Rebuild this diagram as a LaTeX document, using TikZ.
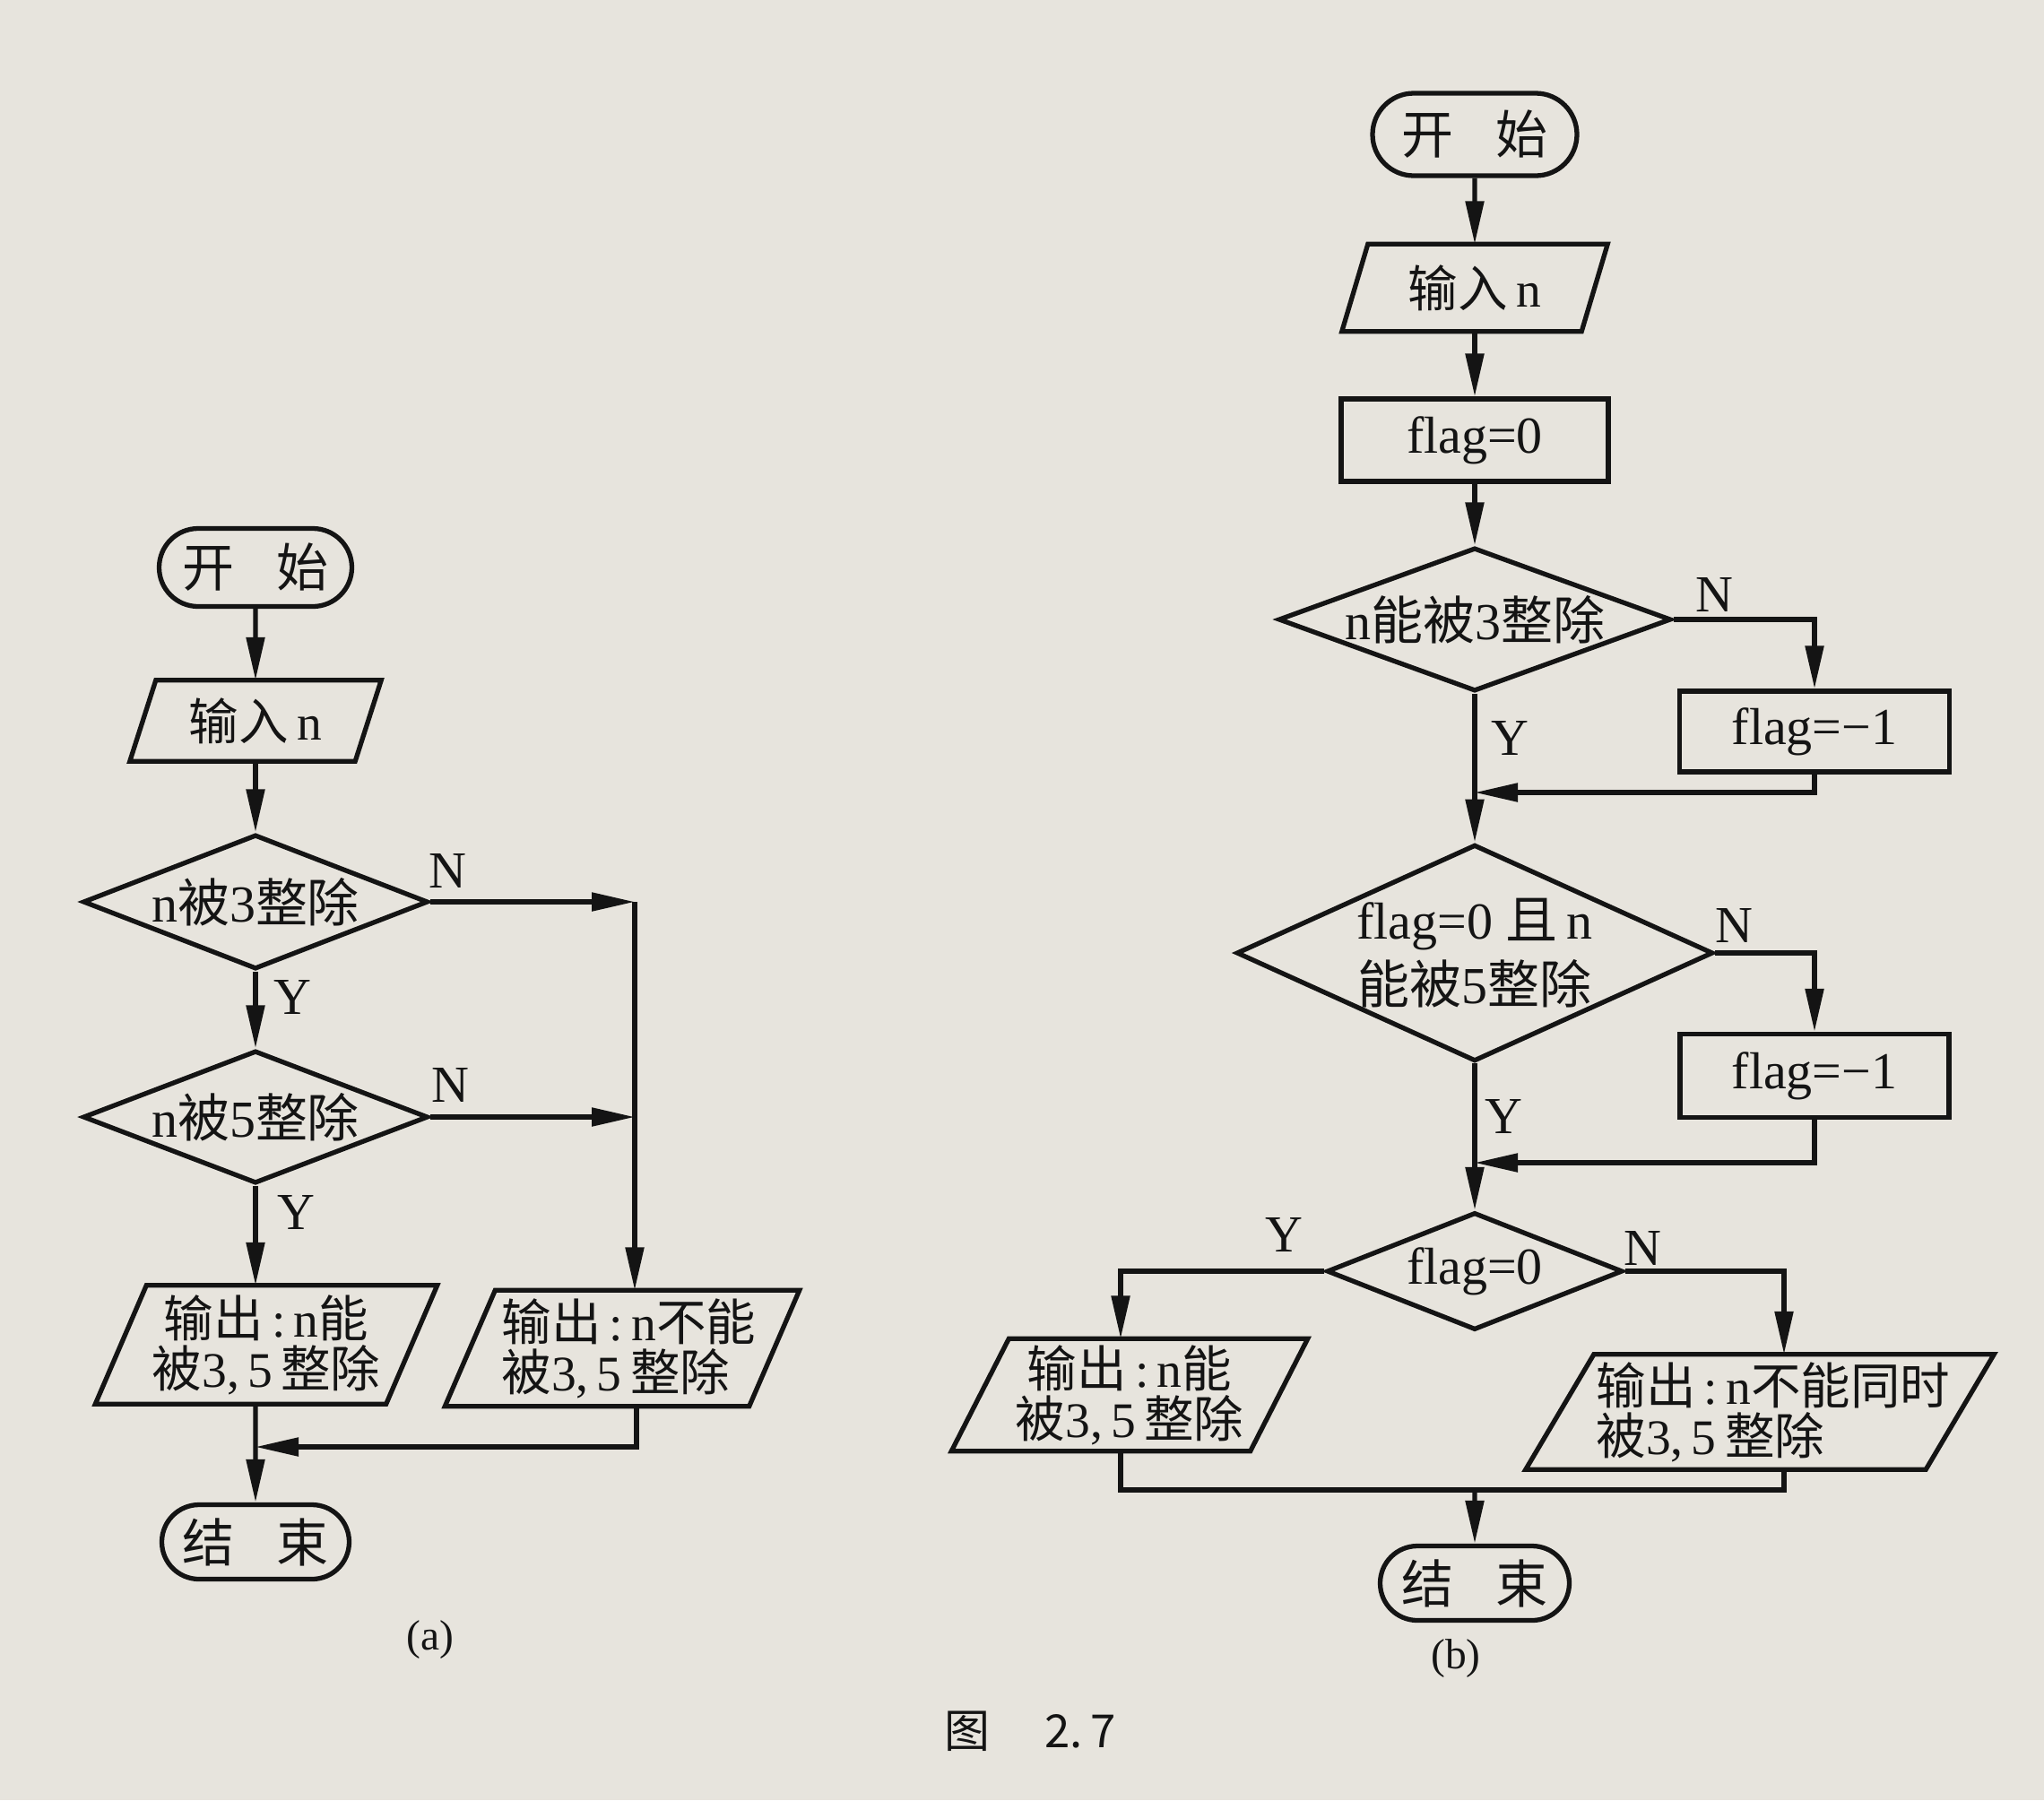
\documentclass[tikz,border=0pt]{standalone}
\usepackage{fontspec}
\setmainfont{Liberation Serif}
\newfontfamily\cjk{Noto Sans CJK SC}
\newcommand\zh[1]{{\cjk #1}}
\usetikzlibrary{arrows.meta,shapes.geometric,shapes.misc}
\definecolor{paper}{RGB}{231,228,221}
\definecolor{ink}{RGB}{20,20,20}
\tikzset{
  every node/.style={font=\fontsize{16.5}{16.5}\selectfont, text=ink},
  line/.style={draw=ink, line width=1.5pt},
  arr/.style={line, -{Triangle[length=4.8mm,width=2mm]}},
  term/.style={line, rounded rectangle, minimum width=2.15cm, minimum height=0.87cm, inner sep=0pt},
  io/.style={rectangle, minimum height=0.9cm, inner sep=0pt, align=center,
    font=\fontsize{15.8}{16}\selectfont},
  proc/.style={line, rectangle, minimum width=3cm, minimum height=0.92cm},
  test/.style={line, diamond, inner sep=0pt},
  lbl/.style={inner sep=0pt},
  captext/.style={inner sep=0pt, font=\fontsize{13.5}{15}\selectfont},
}
\newcommand\slantbox[2]{\draw[line] ([xshift=#2]#1.north west) -- (#1.north east)
  -- ([xshift=-#2]#1.south east) -- (#1.south west) -- cycle;}

\begin{document}
\begin{tikzpicture}

  \fill[paper] (0,0) rectangle (22.8,-20.08);
  \useasboundingbox (0,0) rectangle (22.8,-20.08);

  \node[term] (A1) at (2.85,-6.33) {\zh{开}\hspace{0.8em}\zh{始}};
  \node[io, minimum width=2.79cm, minimum height=0.89cm] (A2) at (2.85,-8.04) {\zh{输入}\,n};
  \node[test, aspect=2.57, minimum width=3.85cm, minimum height=1.5cm] (A3) at (2.85,-10.06) {n\zh{被}3\zh{整除}};
  \node[test, aspect=2.57, minimum width=3.85cm, minimum height=1.48cm] (A4) at (2.85,-12.46) {n\zh{被}5\zh{整除}};
  \node[io, minimum width=3.8cm, minimum height=1.31cm] (A5) at (2.97,-15.0)
    {\zh{输出}\,:\,n\zh{能}\\\zh{被}3,\,5\,\zh{整除}};
  \node[io, minimum width=3.94cm, minimum height=1.28cm, align=left] (A6) at (6.94,-15.04)
    {\hspace*{0.15cm}\zh{输出}\,:\,n\zh{不能}\\\hspace*{0.15cm}\zh{被}3,\,5\,\zh{整除}};
  \node[term, minimum width=2.09cm, minimum height=0.83cm] (A7) at (2.85,-17.2) {\zh{结}\hspace{0.8em}\zh{束}};
  \slantbox{A2}{0.29cm}
  \slantbox{A5}{0.57cm}
  \slantbox{A6}{0.56cm}

  \coordinate (Ja) at (7.08,-10.06);
  \coordinate (Ma) at (7.1,-16.14);
  \draw[arr] (A1) -- (A2);
  \draw[arr] (A2) -- (A3);
  \draw[arr] (A3) -- (A4);
  \draw[arr] (A4) -- (A4 |- A5.north);
  \draw[arr] (A3.east) -- (Ja);
  \draw[arr] (Ja) -- (Ja |- A6.north);
  \draw[arr] (A4.east) -- (Ja |- A4.east);
  \draw[arr] (Ma |- A6.south) -- (Ma) -- (A7 |- Ma);
  \draw[arr] (A7 |- A5.south) -- (A7);

  \node[lbl] at (4.99,-9.71) {N};
  \node[lbl] at (3.26,-11.12) {Y};
  \node[lbl] at (5.02,-12.10) {N};
  \node[lbl] at (3.30,-13.52) {Y};
  \node[captext] at (4.80,-18.29) {(a)};

  \node[term, minimum width=2.28cm, minimum height=0.92cm] (B1) at (16.45,-1.5) {\zh{开}\hspace{0.8em}\zh{始}};
  \node[io, minimum width=2.95cm, minimum height=0.96cm] (B2) at (16.45,-3.21) {\zh{输入}\,n};
  \node[proc, minimum width=2.98cm] (B3) at (16.45,-4.91) {flag=0};
  \node[test, aspect=2.74, minimum width=4.38cm, minimum height=1.6cm] (B4) at (16.45,-6.91) {n\zh{能被}3\zh{整除}};
  \node[proc, minimum width=3.01cm, minimum height=0.9cm] (B5) at (20.24,-8.16) {flag=−1};
  \node[test, aspect=2.2, minimum width=5.21cm, minimum height=2.36cm, align=center] (B6) at (16.45,-10.63)
    {flag=0 \zh{且}\,n\\[2pt]\zh{能被}5\zh{整除}};
  \node[proc, minimum width=3cm, minimum height=0.93cm] (B7) at (20.24,-12.0) {flag=−1};
  \node[test, aspect=2.5, minimum width=3.3cm, minimum height=1.31cm] (B8) at (16.45,-14.18) {flag=0};
  \node[io, minimum width=3.96cm, minimum height=1.24cm] (B9) at (12.6,-15.56)
    {\zh{输出}\,:\,n\zh{能}\\\zh{被}3,\,5\,\zh{整除}};
  \node[io, minimum width=5.21cm, minimum height=1.27cm, align=left] (B10) at (19.63,-15.75)
    {\hspace*{0.3cm}\zh{输出}\,:\,n\zh{不能同时}\\\hspace*{0.3cm}\zh{被}3,\,5\,\zh{整除}};
  \node[term, minimum width=2.11cm, minimum height=0.83cm] (B11) at (16.45,-17.66) {\zh{结}\hspace{0.8em}\zh{束}};
  \slantbox{B2}{0.29cm}
  \slantbox{B9}{0.64cm}
  \slantbox{B10}{0.76cm}

  \coordinate (M1) at (16.45,-8.84);
  \coordinate (M2) at (16.45,-12.97);
  \coordinate (M3) at (16.45,-16.62);
  \coordinate (Rb) at (19.9,-15.75);
  \draw[arr] (B1) -- (B2);
  \draw[arr] (B2) -- (B3);
  \draw[arr] (B3) -- (B4);
  \draw[arr] (B4.east) -| (B5);
  \draw[arr] (B5) |- (M1);
  \draw[arr] (B4) -- (B6);
  \draw[arr] (B6.east) -| (B7);
  \draw[arr] (B7) |- (M2);
  \draw[arr] (B6) -- (B8);
  \draw[arr] (B8.west) -| ([xshift=-1mm]B9.north);
  \draw[arr] (B8.east) -| (Rb |- B10.north);
  \draw[line] ([xshift=-1mm]B9.south) |- (Rb |- M3) -- (Rb |- B10.south);
  \draw[arr] (M3) -- (B11);

  \node[lbl] at (19.12,-6.63) {N};
  \node[lbl] at (16.84,-8.23) {Y};
  \node[lbl] at (19.34,-10.32) {N};
  \node[lbl] at (16.77,-12.45) {Y};
  \node[lbl] at (14.32,-13.77) {Y};
  \node[lbl] at (18.32,-13.92) {N};
  \node[captext] at (16.24,-18.50) {(b)};

  \node[captext, font=\fontsize{14.5}{16}\selectfont] at (11.49,-19.31) {\zh{图}\hspace{1.2em}\zh{2.\,7}};

\end{tikzpicture}
\end{document}
